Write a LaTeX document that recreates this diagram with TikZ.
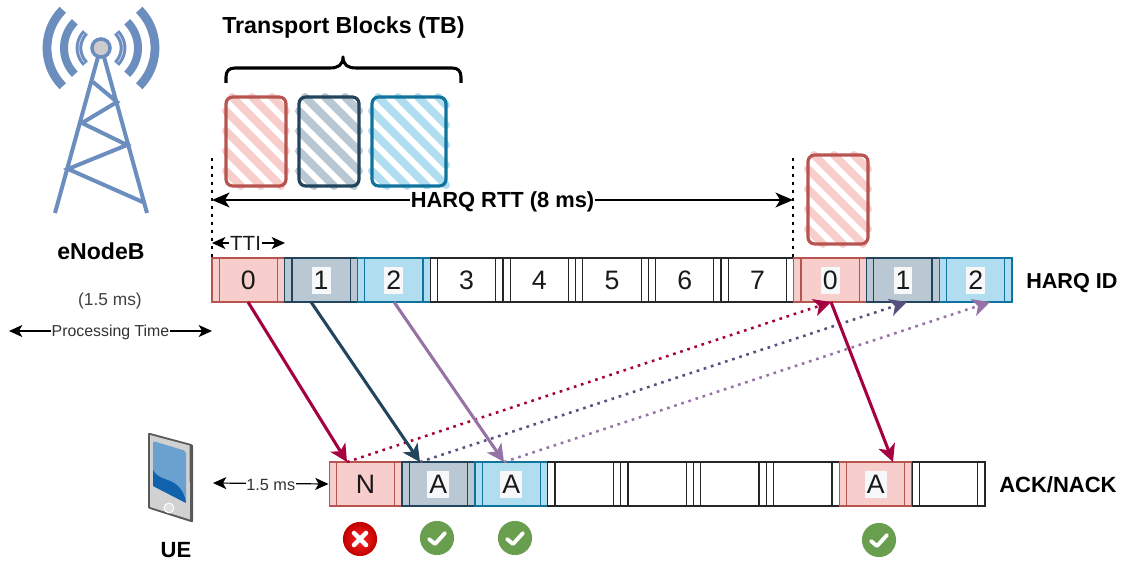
\documentclass[tikz,border=0pt]{standalone}
\usepackage{fontspec}
\setmainfont{Liberation Sans}
\usetikzlibrary{arrows.meta,calc}
\definecolor{redf}{HTML}{F8CECC}\definecolor{reds}{HTML}{B85450}
\definecolor{darkf}{HTML}{BAC8D3}\definecolor{darks}{HTML}{23445D}
\definecolor{bluef}{HTML}{B1DDF0}\definecolor{blues}{HTML}{10739E}
\definecolor{towerc}{HTML}{6C8EBF}\definecolor{crimson}{HTML}{A50040}
\definecolor{indigo}{HTML}{56517E}\definecolor{lilac}{HTML}{9673A6}
\definecolor{okgreen}{HTML}{6A9E4F}\definecolor{digitbg}{HTML}{F6F8FA}
\definecolor{screenl}{HTML}{6BA1CE}\definecolor{screend}{HTML}{0F62AB}
\tikzset{
  cell/.style={draw=#1,line width=.9pt,minimum width=54.5pt,minimum height=33pt,inner sep=0pt,
    path picture={\draw[#1,line width=.9pt]
      ([xshift=5.4pt]path picture bounding box.south west)--([xshift=5.4pt]path picture bounding box.north west)
      ([xshift=-5.4pt]path picture bounding box.south east)--([xshift=-5.4pt]path picture bounding box.north east);}},
  redc/.style={cell=reds,fill=redf},
  darkc/.style={cell=darks,fill=darkf},
  bluec/.style={cell=blues,fill=bluef},
  whitec/.style={cell=black!85,fill=white},
  digit/.style={font=\fontsize{20}{20}\selectfont,text=black!90,inner sep=0pt,yshift=-.5pt},
  digitb/.style={digit,fill=digitbg,inner xsep=1.5pt,inner ysep=3pt},
  head/.style={font=\bfseries\fontsize{16.5}{18}\selectfont,text=black,inner sep=0pt},
  small/.style={text=black!80,fill=white,inner xsep=.5pt,inner ysep=1.5pt,yshift=-.8pt},
  tipa/.style={-{Stealth[length=13pt,width=13pt,inset=3.5pt]}},
  tipb/.style={{Stealth[length=10pt,width=9pt,inset=2.6pt]}-{Stealth[length=10pt,width=9pt,inset=2.6pt]}},
  tipc/.style={{Stealth[length=13pt,width=11pt,inset=3.4pt]}-{Stealth[length=13pt,width=11pt,inset=3.4pt]}},
  solidarr/.style={tipa,line width=2.3pt},
  dotarr/.style={tipa,line width=1.9pt,dash pattern=on 2pt off 3.6pt},
  tower/.style={towerc,line width=3pt},
  vdots/.style={black,line width=2pt,dash pattern=on 2pt off 4pt},
}
\newcommand\hatchbox[6]{%
  \foreach \k in {-12,...,12}{%
    \pgfmathsetmacro\cc{#2-#1+14+20*\k}%
    \pgfmathsetmacro\xa{max(#1,#2-\cc)}%
    \pgfmathsetmacro\xb{min(#3,#4-\cc)}%
    \pgfmathsetmacro\ya{\xa+\cc}%
    \pgfmathsetmacro\yb{\xb+\cc}%
    \pgfmathparse{\xb>\xa+6?1:0}%
    \ifnum\pgfmathresult=1
      \draw[#5,line width=6pt,line cap=round] (\xa,\ya)--(\xb,\yb);
    \fi}%
  \draw[#6,line width=2.4pt,rounded corners=5pt] (#1,#2) rectangle (#3,#4);}
\newcommand\okmark[2]{%
  \fill[okgreen] (#1,#2) circle[radius=12.8pt];
  \draw[white,line width=2.9pt,line cap=round,line join=round] (#1-8,#2+1)--(#1-2,#2+6)--(#1+8,#2-5);}
\begin{document}
\begin{tikzpicture}[x=.75pt,y=-.75pt]
\useasboundingbox (0,0) rectangle (1121,563);
% antenna
\draw[tower] (98,57)--(55,213) (104,57)--(147,213)
  (93,82)--(117,102)--(82,123)--(127,145)--(68,169)--(145,203);
\foreach \s in {1,-1}{
  \draw[towerc,line width=6.6pt] plot[domain=135:225,samples=30] ({101+\s*54*cos(\x)},{48-54*sin(\x)});
  \draw[towerc,line width=6pt] plot[domain=135:225,samples=30] ({101+\s*37*cos(\x)},{48-37*sin(\x)});
  \draw[towerc,line width=5pt] plot[domain=135:225,samples=30] ({101+\s*22*cos(\x)},{48-22*sin(\x)});
  \draw[white!70!towerc,line width=.5pt] plot[domain=140:220,samples=30] ({101+\s*22*cos(\x)},{48-22*sin(\x)});
}
\draw[towerc,line width=2.6pt,fill=black!20] (101,48) circle[radius=6.8pt];
\node[head,font=\bfseries\fontsize{17.3}{18}\selectfont] (enb) at (101,251) {eNodeB};
% brace + title
\node[head,anchor=west,font=\bfseries\fontsize{17.4}{20}\selectfont] (title) at (222,28) {Transport Blocks (TB)};
\draw[black,line width=2.3pt,line join=round]
  (226,83)--(226,77) .. controls (226,71) and (229,68) .. (235,68)
  --(330,68) .. controls (338,68) and (343,65) .. (343,57)
  .. controls (343,65) and (348,68) .. (356,68)
  --(452,68) .. controls (458,68) and (461,71) .. (461,77)--(461,83);
% hatched blocks
\hatchbox{226}{97}{286}{186}{redf}{reds}
\hatchbox{299}{97}{359}{186}{darkf}{darks}
\hatchbox{372}{97}{446}{186}{bluef}{blues}
\hatchbox{808}{155}{868}{244}{redf}{reds}
% HARQ row
\foreach \i/\st in {0/redc,1/darkc,2/bluec,3/whitec,4/whitec,5/whitec,6/whitec,7/whitec,8/redc,9/darkc,10/bluec}{
  \node[\st] (h\i) at ({212+72.73*\i+36.36},280) {};
}
\node[digit]  (d0) at (h0) {0};
\node[digitb] (d1) at (h1) {1};
\node[digitb] (d2) at (h2) {2};
\node[digit]  (d3) at (h3) {3};
\node[digit]  (d4) at (h4) {4};
\node[digit]  (d5) at (h5) {5};
\node[digit]  (d6) at (h6) {6};
\node[digit]  (d7) at (h7) {7};
\node[digitb] (d8) at (h8) {0};
\node[digitb] (d9) at (h9) {1};
\node[digitb] (d10) at (h10) {2};
\node[head,anchor=west,font=\bfseries\fontsize{16.2}{18}\selectfont] (harqid) at (1026,283) {HARQ ID};
% ACK row
\foreach \i/\st in {0/redc,1/darkc,2/bluec,3/whitec,4/whitec,5/whitec,6/whitec,7/redc,8/whitec}{
  \node[\st] (a\i) at ({329+72.9*\i+36.45},484) {};
}
\node[digit]  (l0) at (a0) {N};
\node[digitb] (l1) at (a1) {A};
\node[digitb] (l2) at (a2) {A};
\node[digitb] (l7) at (a7) {A};
\node[head,anchor=west] (ack) at (999,485) {ACK/NACK};
% dotted limits and spans
\coordinate (ltop) at (212,158); \coordinate (lbot) at (212,258);
\coordinate (rtop) at (793,158); \coordinate (rbot) at (793,258);
\draw[vdots] (ltop)--(lbot);
\draw[vdots] (rtop)--(rbot);
\coordinate (rttl) at (212,200); \coordinate (rttr) at (793,200);
\draw[tipc,line width=2pt] (rttl)--(rttr) node[midway,head,fill=white,font=\bfseries\fontsize{16.4}{18}\selectfont,inner xsep=.5pt,inner ysep=2pt,yshift=-1.5pt] (rtt) {HARQ RTT (8 ms)};
\coordinate (ttil) at (212,243); \coordinate (ttir) at (285,243);
\draw[tipb,line width=.9pt] (ttil)--(ttir) node[pos=.46,fill=white,font=\fontsize{15.4}{16}\selectfont,text=black!90,inner xsep=1pt,inner ysep=2pt,yshift=-.7pt] (tti) {TTI};
\node[font=\fontsize{13}{15}\selectfont,text=black!75,inner sep=0pt] (pms) at (110,301) {(1.5 ms)};
\coordinate (ptl) at (9,331); \coordinate (ptr) at (212,331);
\draw[tipb,line width=.9pt] (ptl)--(ptr) node[pos=.5,small,font=\fontsize{11.9}{13}\selectfont] (pt) {Processing Time};
\coordinate (uel) at (213,483);
\draw[tipb,line width=.9pt] (uel)--(a0.west) node[pos=.5,small,font=\fontsize{12.2}{13}\selectfont] (uems) {1.5 ms};
% connectors
\coordinate (s0) at (248,302); \coordinate (s1) at (311,302); \coordinate (s2) at (394,302);
\coordinate (t0) at (347,462); \coordinate (t1) at (420,462); \coordinate (t2) at (504,462);
\coordinate (r0) at (831,302); \coordinate (r1) at (907,302); \coordinate (r2) at (990,302);
\coordinate (b7) at (893,462);
\draw[dotarr,crimson] (t0)--(r0);
\draw[dotarr,indigo] (t1)--(r1);
\draw[dotarr,lilac] (t2)--(r2);
\draw[solidarr,crimson] (s0)--(t0);
\draw[solidarr,darks] (s1)--(t1);
\draw[solidarr,lilac] (s2)--(t2);
\draw[solidarr,crimson] (r0)--(b7);
% phone
\fill[black!65] (150,433) -- (191,444) .. controls (193,445) .. (193,447) -- (193,520) .. controls (193,522) .. (191,522) -- (150,509) .. controls (148,508) .. (148,506) -- (148,435) .. controls (148,433) .. (150,433) -- cycle;
\fill[black!18] (150,435) -- (189.5,445.5) -- (190,519.5) -- (150,507) -- cycle;
\fill[screenl,rounded corners=1.5pt] (153,441) -- (186,451) -- (186,503) -- (153,486) -- cycle;
\fill[screend] (153,470) .. controls (158,480) and (170,478) .. (178,486) .. controls (182,490) and (185,495) .. (186,503) -- (153,486) -- cycle;
\draw[white,fill=black!12,line width=.7pt] (169,508) circle[radius=3.7pt];
\node[head] (ue) at (176,550) {UE};
% status marks
\shade[inner color=red!85!white,outer color=red!75!black] (360,539) circle[radius=12.8pt];
\draw[white,line width=3.4pt,line cap=round] (354,533)--(366,545) (366,533)--(354,545);
\okmark{437}{538}
\okmark{515}{538}
\okmark{879}{540}
\end{tikzpicture}
\end{document}
